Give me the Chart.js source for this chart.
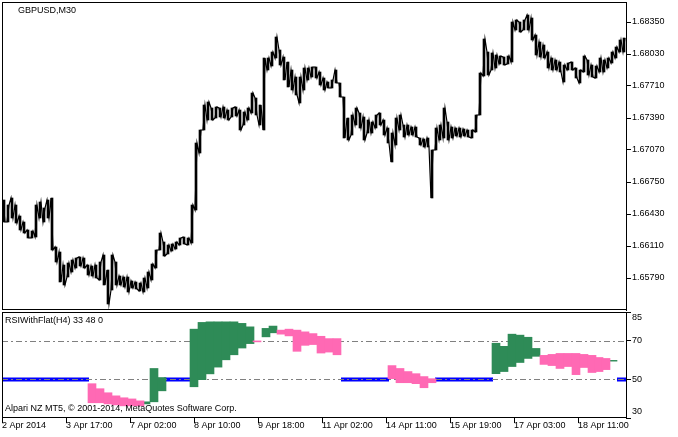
<!DOCTYPE html>
<html>
<head>
<meta charset="utf-8">
<script src="https://cdn.jsdelivr.net/npm/chart.js@4.4.1/dist/chart.umd.min.js"></script>
<style>
    html, body { margin: 0; padding: 0; background: #fff; }
    #wrap { position: relative; width: 678px; height: 437px; overflow: hidden;
            font-family: "Liberation Sans", Arial, sans-serif; font-size: 9px; color: #000; }
    #price { position: absolute; left: 0; top: 0; }
    #rsi { position: absolute; left: 0; top: 300px; }
    .cap { position: absolute; white-space: nowrap; line-height: 1; }
</style>
</head>
<body>
<div id="wrap">
    <canvas id="price" width="678" height="312"></canvas>
    <canvas id="rsi" width="678" height="137"></canvas>
    <div class="cap" style="left:18px; top:6px;">GBPUSD,M30</div>
    <div class="cap" style="left:5px; top:316px;">RSIWithFlat(H4) 33 48 0</div>
    <div class="cap" style="left:5px; top:404px;">Alpari NZ MT5, © 2001-2014, MetaQuotes Software Corp.</div>
</div>
<script>
// price: high / low of every 4 M30 bars
const PRICE_STEP = 4;
const priceHigh = [
    1.6657,1.6652,1.6659,1.6652,1.6641,1.6635,1.6627,1.6626,1.6652,1.6655,
    1.6649,1.6657,1.6659,1.6610,1.6605,1.6592,1.6594,1.6597,1.6599,1.6600,
    1.6599,1.6592,1.6591,1.6592,1.6595,1.6602,1.6587,1.6602,1.6595,1.6581,
    1.6580,1.6580,1.6576,1.6575,1.6574,1.6579,1.6585,1.6593,1.6607,1.6624,
    1.6615,1.6612,1.6613,1.6615,1.6619,1.6620,1.6619,1.6652,1.6714,1.6727,
    1.6752,1.6755,1.6749,1.6750,1.6749,1.6750,1.6747,1.6749,1.6750,1.6747,
    1.6745,1.6749,1.6764,1.6759,1.6752,1.6799,1.6799,1.6805,1.6820,1.6807,
    1.6800,1.6795,1.6787,1.6780,1.6780,1.6789,1.6789,1.6790,1.6790,1.6785,
    1.6779,1.6775,1.6777,1.6787,1.6774,1.6760,1.6739,1.6742,1.6749,1.6744,
    1.6740,1.6737,1.6735,1.6742,1.6744,1.6737,1.6729,1.6724,1.6739,1.6742,
    1.6732,1.6732,1.6730,1.6730,1.6719,1.6718,1.6719,1.6707,1.6729,1.6732,
    1.6749,1.6735,1.6730,1.6729,1.6729,1.6728,1.6727,1.6727,1.6742,1.6784,
    1.6818,1.6805,1.6804,1.6802,1.6801,1.6800,1.6801,1.6835,1.6837,1.6835,
    1.6837,1.6842,1.6839,1.6822,1.6815,1.6812,1.6805,1.6799,1.6797,1.6795,
    1.6792,1.6794,1.6795,1.6789,1.6787,1.6801,1.6797,1.6792,1.6791,1.6799,
    1.6797,1.6799,1.6805,1.6810,1.6817,1.6819
];
const priceLow = [
    1.6635,1.6635,1.6639,1.6634,1.6627,1.6624,1.6619,1.6619,1.6620,1.6639,
    1.6635,1.6639,1.6607,1.6595,1.6575,1.6572,1.6580,1.6585,1.6589,1.6591,
    1.6589,1.6582,1.6581,1.6579,1.6577,1.6572,1.6553,1.6567,1.6572,1.6572,
    1.6570,1.6565,1.6569,1.6568,1.6566,1.6565,1.6569,1.6577,1.6589,1.6607,
    1.6601,1.6603,1.6606,1.6608,1.6612,1.6613,1.6612,1.6614,1.6647,1.6704,
    1.6727,1.6737,1.6737,1.6739,1.6740,1.6739,1.6737,1.6740,1.6741,1.6727,
    1.6732,1.6737,1.6744,1.6742,1.6732,1.6727,1.6787,1.6791,1.6799,1.6792,
    1.6777,1.6770,1.6767,1.6762,1.6754,1.6767,1.6777,1.6780,1.6779,1.6772,
    1.6767,1.6769,1.6769,1.6774,1.6760,1.6719,1.6717,1.6722,1.6732,1.6729,
    1.6717,1.6724,1.6724,1.6729,1.6732,1.6722,1.6714,1.6695,1.6712,1.6727,
    1.6720,1.6722,1.6722,1.6720,1.6712,1.6710,1.6710,1.6659,1.6707,1.6717,
    1.6719,1.6717,1.6719,1.6721,1.6720,1.6721,1.6720,1.6719,1.6725,1.6742,
    1.6781,1.6782,1.6787,1.6789,1.6793,1.6792,1.6793,1.6795,1.6827,1.6825,
    1.6827,1.6827,1.6817,1.6802,1.6800,1.6799,1.6789,1.6787,1.6787,1.6785,
    1.6775,1.6787,1.6787,1.6779,1.6774,1.6785,1.6782,1.6780,1.6779,1.6785,
    1.6785,1.6789,1.6794,1.6799,1.6805,1.6805
];
const priceTicks = [1.68350, 1.68030, 1.67710, 1.67390, 1.67070, 1.66750, 1.66430, 1.66110, 1.65790];

// time axis (M30 bar index)
const BAR_COUNT = 624;
const timeTickIdx = [0, 64, 128, 192, 256, 320, 384, 448, 512, 576];
const timeLabels = ['2 Apr 2014', '3 Apr 17:00', '7 Apr 02:00', '8 Apr 10:00', '9 Apr 18:00',
    '11 Apr 02:00', '14 Apr 11:00', '15 Apr 19:00', '17 Apr 03:00', '18 Apr 11:00'];

// RSIWithFlat(H4): H4 bars start index (M30), top and bottom of each bar
const upStart = [140, 148, 156, 188, 196, 204, 212, 220, 228, 236, 244, 260, 267, 490, 498, 506, 514, 522, 530, 607];
const upHigh  = [38.4, 55.7, 51.0, 76.1, 79.6, 79.9, 79.9, 79.9, 79.9, 79.1, 77.3, 76.5, 77.7, 68.8, 67.2, 73.5, 73.0, 71.9, 66.1, 59.9];
const upLow   = [37.3, 38.4, 44.1, 46.2, 49.9, 52.9, 56.4, 60.2, 62.8, 66.3, 68.6, 72.1, 74.2, 53.0, 54.1, 56.7, 58.8, 60.9, 62.0, 59.5];
const downStart = [86, 94, 102, 110, 118, 126, 134, 251, 275, 283, 291, 299, 307, 315, 323, 331,
    386, 394, 402, 410, 418, 426, 538, 546, 554, 562, 570, 578, 586, 593, 600];
const downHigh  = [47.8, 45.2, 43.1, 41.5, 40.5, 39.9, 38.9, 70.0, 75.6, 76.1, 75.6, 74.7, 73.8, 72.4, 71.2, 71.2,
    57.2, 55.7, 54.1, 53.0, 51.5, 50.4, 62.5, 63.0, 63.5, 63.5, 63.5, 63.0, 62.5, 61.4, 60.9];
const downLow   = [37.9, 37.9, 37.3, 36.8, 36.3, 36.3, 36.3, 69.5, 73.5, 72.6, 64.6, 67.7, 68.1, 63.7, 64.2, 62.8,
    50.4, 48.3, 48.3, 47.8, 45.7, 48.3, 57.8, 57.2, 55.7, 56.7, 52.5, 56.2, 53.6, 54.1, 55.1];
const flatSpans = [[0, 87], [162, 189], [339, 387], [433, 491], [615, 624]];
const FLAT_LEVEL = 50;
const levels = [70, 50];
const rsiTicks = [85, 70, 50, 30];

Chart.defaults.font.family = '"Liberation Sans", Arial, sans-serif';
Chart.defaults.font.size = 9;
Chart.defaults.color = '#000';

// zigzag through high/low of each sample so the trace looks like the dense M30 line
const pricePoints = [];
const priceRanges = [];
const n = priceHigh.length;
const mid = i => (priceHigh[i] + priceLow[i]) / 2;
priceHigh.forEach((h, i) => {
    const l = priceLow[i];
    const prev = i > 0 ? mid(i - 1) : mid(i);
    const next = i < n - 1 ? mid(i + 1) : mid(i);
    const rising = next > prev;
    pricePoints.push({ x: i * PRICE_STEP + 1, y: rising ? l : h });
    pricePoints.push({ x: i * PRICE_STEP + 3, y: rising ? h : l });
    priceRanges.push({ x: i * PRICE_STEP + 2, y: [l, h] });
});

const flatPoints = [];
flatSpans.forEach(([s, e]) => {
    flatPoints.push({ x: s, y: FLAT_LEVEL }, { x: e, y: FLAT_LEVEL }, { x: e + 1, y: null });
});

const upBars = upStart.map((s, i) => ({ x: s + 4, y: [upLow[i], upHigh[i]] }));
const downBars = downStart.map((s, i) => ({ x: s + 4, y: [downLow[i], downHigh[i]] }));

// black frame round each panel
const panelFrame = {
    id: 'panelFrame',
    afterDraw(chart) {
        const { ctx, chartArea: a } = chart;
        ctx.save();
        ctx.strokeStyle = '#000';
        ctx.lineWidth = 1;
        ctx.strokeRect(a.left + 0.5, a.top + 0.5, a.right - a.left, a.bottom - a.top - 1);
        ctx.restore();
    }
};

// dash-dot levels, drawn over the flat line but under the bars
const rsiLevels = {
    id: 'rsiLevels',
    afterDatasetDraw(chart, args) {
        if (args.meta.type !== 'line') return;
        const { ctx, chartArea: a, scales: { y } } = chart;
        ctx.save();
        ctx.strokeStyle = '#808080';
        ctx.lineWidth = 1;
        ctx.setLineDash([6, 3, 2, 3]);
        levels.forEach(v => {
            const py = Math.round(y.getPixelForValue(v)) + 0.5;
            ctx.beginPath();
            ctx.moveTo(a.left, py);
            ctx.lineTo(a.right, py);
            ctx.stroke();
        });
        ctx.restore();
    },
    afterDraw(chart) {
        const { ctx, chartArea: a, scales: { y } } = chart;
        ctx.save();
        ctx.font = '9px "Liberation Sans", Arial, sans-serif';
        ctx.fillStyle = '#000';
        ctx.textAlign = 'left';
        ctx.textBaseline = 'middle';
        rsiTicks.forEach(v => {
            const py = Math.min(Math.max(y.getPixelForValue(v), a.top + 6), a.bottom - 6);
            ctx.fillText(String(v), y.left + 6, py);
        });
        ctx.restore();
    }
};

function rightAxis(extra) {
    return Object.assign({
        position: 'right',
        afterFit(s) { s.width = 52; s.paddingTop = 0; s.paddingBottom = 0; },
        grid: { drawOnChartArea: false, tickLength: 5, color: '#000' },
        border: { color: '#000' },
        ticks: { padding: 1, color: '#000' }
    }, extra);
}

new Chart(document.getElementById('price'), {
    type: 'line',
    data: {
        datasets: [
            {
                data: pricePoints,
                borderColor: '#000',
                borderWidth: 1.2,
                pointRadius: 0,
                tension: 0
            },
            {
                type: 'bar',
                data: priceRanges,
                backgroundColor: '#000',
                grouped: false,
                barThickness: 2
            }
        ]
    },
    options: {
        responsive: false,
        animation: false,
        devicePixelRatio: 1,
        layout: { padding: { left: 2, top: 2, right: 0, bottom: 2 } },
        plugins: { legend: { display: false }, tooltip: { enabled: false } },
        scales: {
            x: { type: 'linear', min: 0, max: BAR_COUNT, offset: false, display: false },
            y: rightAxis({
                min: 1.6547,
                max: 1.6855,
                afterBuildTicks(s) { s.ticks = priceTicks.map(v => ({ value: v })); },
                ticks: { padding: 1, color: '#000', callback: v => v.toFixed(5) }
            })
        }
    },
    plugins: [panelFrame]
});

new Chart(document.getElementById('rsi'), {
    type: 'bar',
    data: {
        datasets: [
            {
                type: 'line',
                data: flatPoints,
                borderColor: '#0000ff',
                borderWidth: 4,
                pointRadius: 0,
                spanGaps: false,
                order: 3
            },
            {
                data: upBars,
                backgroundColor: '#2e8b57',
                grouped: false,
                barThickness: 8,
                order: 2
            },
            {
                data: downBars,
                backgroundColor: '#ff69b4',
                grouped: false,
                barThickness: 8,
                order: 1
            }
        ]
    },
    options: {
        responsive: false,
        animation: false,
        devicePixelRatio: 1,
        layout: { padding: { left: 2, top: 12, right: 0, bottom: 0 } },
        plugins: { legend: { display: false }, tooltip: { enabled: false } },
        scales: {
            x: {
                type: 'linear',
                min: 0,
                max: BAR_COUNT,
                offset: false,
                afterBuildTicks(s) { s.ticks = timeTickIdx.map(v => ({ value: v })); },
                afterFit(s) { s.height = 19; s.paddingLeft = 0; s.paddingRight = 0; },
                ticks: {
                    align: 'start',
                    autoSkip: false,
                    maxRotation: 0,
                    padding: -3,
                    color: '#000',
                    callback: (v, i) => timeLabels[i]
                },
                grid: { drawOnChartArea: false, tickLength: 5, color: '#000', offset: false },
                border: { display: false }
            },
            y: rightAxis({
                min: 30,
                max: 85,
                afterBuildTicks(s) { s.ticks = rsiTicks.map(v => ({ value: v })); },
                ticks: { display: false }
            })
        }
    },
    plugins: [panelFrame, rsiLevels]
});
</script>
</body>
</html>
